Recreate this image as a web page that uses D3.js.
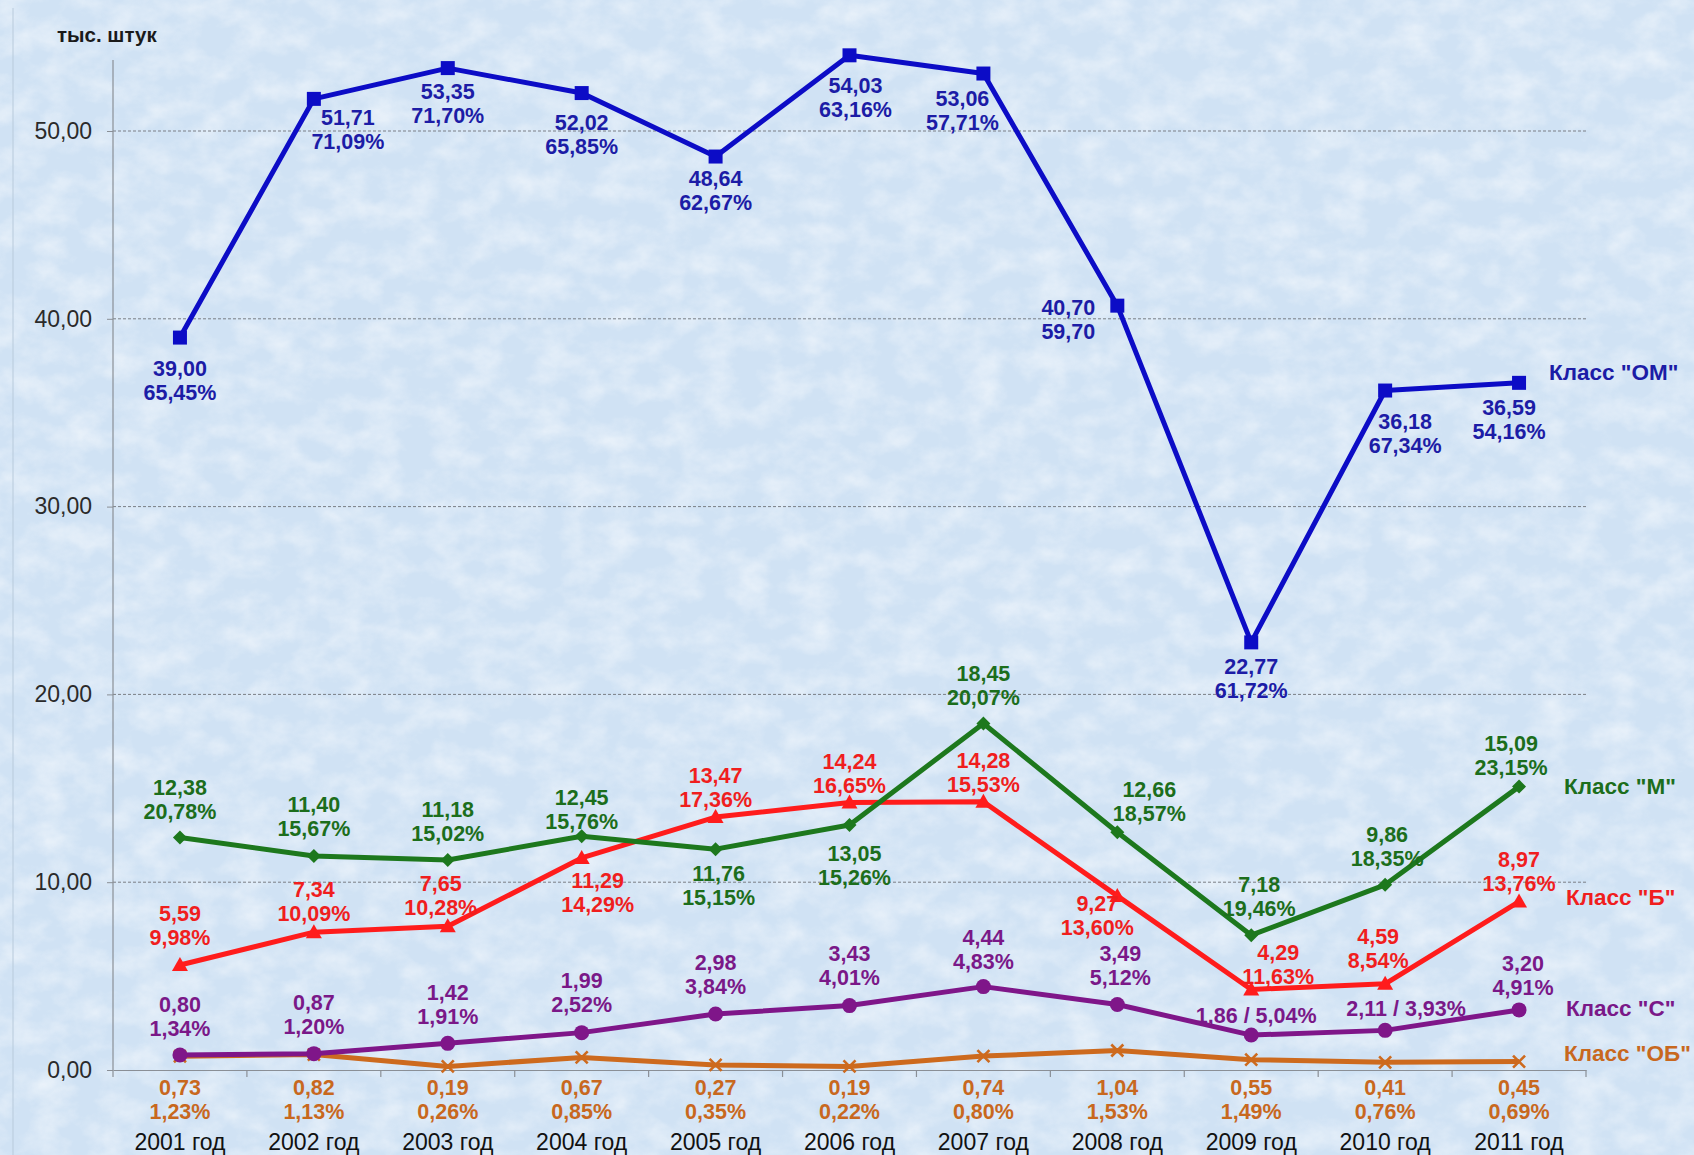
<!DOCTYPE html>
<html>
<head>
<meta charset="utf-8">
<script src="https://cdn.jsdelivr.net/npm/d3@7"></script>
<style>
  html, body { margin: 0; padding: 0; background: #d5e5f4; }
  svg { display: block; }
  text { font-family: "Liberation Sans", Arial, sans-serif; }
</style>
</head>
<body>
<svg id="chart" width="1694" height="1155"></svg>
<script>
// ---------- DATA ----------
const years = ["2001 год", "2002 год", "2003 год", "2004 год", "2005 год", "2006 год",
               "2007 год", "2008 год", "2009 год", "2010 год", "2011 год"];
const seriesNames = ['Класс "ОМ"', 'Класс "М"', 'Класс "Б"', 'Класс "С"', 'Класс "ОБ"'];
const omValues = [39.00, 51.71, 53.35, 52.02, 48.64, 54.03, 53.06, 40.70, 22.77, 36.18, 36.59];
const omShares = [65.45, 71.09, 71.70, 65.85, 62.67, 63.16, 57.71, 59.70, 61.72, 67.34, 54.16];
const mValues  = [12.38, 11.40, 11.18, 12.45, 11.76, 13.05, 18.45, 12.66, 7.18, 9.86, 15.09];
const mShares  = [20.78, 15.67, 15.02, 15.76, 15.15, 15.26, 20.07, 18.57, 19.46, 18.35, 23.15];
const bValues  = [5.59, 7.34, 7.65, 11.29, 13.47, 14.24, 14.28, 9.27, 4.29, 4.59, 8.97];
const bShares  = [9.98, 10.09, 10.28, 14.29, 17.36, 16.65, 15.53, 13.60, 11.63, 8.54, 13.76];
const cValues  = [0.80, 0.87, 1.42, 1.99, 2.98, 3.43, 4.44, 3.49, 1.86, 2.11, 3.20];
const cShares  = [1.34, 1.20, 1.91, 2.52, 3.84, 4.01, 4.83, 5.12, 5.04, 3.93, 4.91];
const obValues = [0.73, 0.82, 0.19, 0.67, 0.27, 0.19, 0.74, 1.04, 0.55, 0.41, 0.45];
const obShares = [1.23, 1.13, 0.26, 0.85, 0.35, 0.22, 0.80, 1.53, 1.49, 0.76, 0.69];
const yTickValues = [0, 10, 20, 30, 40, 50];
const yAxisTitle = "тыс. штук";
// share shown without "%" sign in the original (OM, 2008)
const omNoPercent = [7];

// ---------- LAYOUT / STYLE (kept apart from data) ----------
const W = 1694, H = 1155;
const plot = { left: 113, right: 1586, top: 60, bottom: 1070, y50: 131 };
const fontFamily = '"Liberation Sans", Arial, sans-serif';

// label offsets: [dx, dy] of first text line centre relative to the point
const omLabelOff = [[0,31],[34,19],[0,23],[0,29],[0,22],[6,30],[-21,25],[-49,2],[0,24],[20,31],[-10,25]];
const mLabelOff  = [[0,-50],[0,-51],[0,-51],[0,-39],[3,24],[5,29],[0,-50],[32,-43],[8,-51],[2,-50],[-8,-43]];
const bLabelOff  = [[0,-52],[0,-43],[-7,-43],[16,23],[0,-42],[0,-41],[0,-41],[-20,8],[27,-37],[-7,-47],[0,-42]];
const cLabelOff  = [[0,-51],[0,-51],[0,-51],[0,-52],[0,-52],[0,-52],[0,-49],[3,-51],[5,-20],[21,-22],[4,-46]];
const cInline    = [false,false,false,false,false,false,false,false,true,true,false];
const obLabelAxisGap = 17; // OB labels sit under the axis

const series = [
  { name: seriesNames[0], values: omValues, shares: omShares, color: "#0c0cc6", text: "#1c1ca6", marker: "square",
    off: omLabelOff, noPct: omNoPercent, legend: [30, -11] },
  { name: seriesNames[1], values: mValues, shares: mShares, color: "#1d781d", text: "#1c6e1c", marker: "diamond",
    off: mLabelOff, noPct: [], legend: [45, 0] },
  { name: seriesNames[2], values: bValues, shares: bShares, color: "#ff1c1c", text: "#f01e1e", marker: "triangle",
    off: bLabelOff, noPct: [], legend: [47, -4] },
  { name: seriesNames[3], values: cValues, shares: cShares, color: "#7f1689", text: "#7a1888", marker: "circle",
    off: cLabelOff, inline: cInline, noPct: [], legend: [47, -2] },
  { name: seriesNames[4], values: obValues, shares: obShares, color: "#cd6a1e", text: "#c8681e", marker: "x",
    axisLabels: true, noPct: [], legend: [45, -8] }
];

const fmt = v => d3.format(".2f")(v).replace(".", ",");

// ---------- SCALES ----------
const x = d3.scaleBand().domain(years).range([plot.left, plot.right]).padding(0);
const xc = d => x(d) + x.bandwidth() / 2;
const y = d3.scaleLinear().domain([0, 50]).range([plot.bottom, plot.y50]);

const svg = d3.select("#chart");

// ---------- BACKGROUND ----------
const defs = svg.append("defs");
const f = defs.append("filter").attr("id", "frost").attr("x", 0).attr("y", 0).attr("width", 1).attr("height", 1);
f.append("feTurbulence").attr("type", "fractalNoise").attr("baseFrequency", "0.03 0.04")
  .attr("numOctaves", 4).attr("seed", 11).attr("result", "n");
f.append("feColorMatrix").attr("in", "n").attr("type", "matrix")
  .attr("values", "0 0 0 0 1  0 0 0 0 1  0 0 0 0 1  1.5 0 0 0 -0.55");
svg.append("rect").attr("width", W).attr("height", H).attr("fill", "#d0e2f4");
svg.append("rect").attr("width", W).attr("height", H).attr("fill", "#fff").attr("filter", "url(#frost)").attr("opacity", 0.6);
svg.append("line").attr("x1", 13).attr("x2", 13).attr("y1", 8).attr("y2", H)
  .attr("stroke", "#b8cadb").attr("stroke-width", 1);

// ---------- GRID ----------
svg.append("g").selectAll("line").data(yTickValues.filter(v => v > 0)).join("line")
  .attr("x1", plot.left).attr("x2", plot.right)
  .attr("y1", d => y(d)).attr("y2", d => y(d))
  .attr("stroke", "#7a7f86").attr("stroke-width", 1).attr("stroke-dasharray", "3,2");

// ---------- AXES ----------
const yAxis = svg.append("g").attr("transform", `translate(${plot.left},0)`)
  .call(d3.axisLeft(y).tickValues(yTickValues).tickFormat(fmt).tickSize(6).tickPadding(15));
yAxis.select(".domain").remove();
yAxis.append("line").attr("x1", 0).attr("x2", 0).attr("y1", plot.top).attr("y2", plot.bottom)
  .attr("stroke", "#8a8f96").attr("stroke-width", 1.2);
yAxis.selectAll(".tick line").attr("stroke", "#8a8f96");
yAxis.selectAll("text").attr("font-size", 23).attr("fill", "#2a2a2a").attr("font-family", fontFamily);

const xAxis = svg.append("g").attr("transform", `translate(0,${plot.bottom})`)
  .call(d3.axisBottom(x).tickSize(0));
xAxis.select(".domain").attr("stroke", "#8a8f96").attr("stroke-width", 1.2);
xAxis.selectAll("text").attr("y", 72).attr("dy", "0.35em").attr("font-size", 23)
  .attr("fill", "#111").attr("font-family", fontFamily);
// boundary ticks between categories
xAxis.append("g").selectAll("line").data(years.concat(["__end"])).join("line")
  .attr("x1", d => d === "__end" ? plot.right : x(d))
  .attr("x2", d => d === "__end" ? plot.right : x(d))
  .attr("y1", 0).attr("y2", 7).attr("stroke", "#8a8f96").attr("stroke-width", 1.2);

// axis title
svg.append("text").attr("x", 57).attr("y", 35).attr("dy", "0.35em")
  .attr("font-size", 20.5).attr("font-weight", "bold").attr("fill", "#1a1a1a").text(yAxisTitle);

// ---------- SERIES ----------
const line = d3.line().x(d => xc(d.year)).y(d => y(d.value));

const markerPath = {
  square: "M-7,-7H7V7H-7Z",
  diamond: "M0,-7L7,0L0,7L-7,0Z",
  triangle: "M0,-8L8,6H-8Z",
};

// draw lower series first so that OM stays on top
const drawOrder = [4, 3, 2, 1, 0];
drawOrder.forEach(si => {
  const s = series[si];
  const pts = years.map((yr, i) => ({ year: yr, value: s.values[i], share: s.shares[i], i }));
  const g = svg.append("g");
  g.append("path").datum(pts).attr("d", line).attr("fill", "none")
    .attr("stroke", s.color).attr("stroke-width", 5).attr("stroke-linejoin", "round");
  const m = g.selectAll(".m").data(pts).join("g")
    .attr("transform", d => `translate(${xc(d.year)},${y(d.value)})`);
  if (s.marker === "circle") {
    m.append("circle").attr("r", 7.5).attr("fill", s.color);
  } else if (s.marker === "x") {
    m.append("path").attr("d", "M-6,-6L6,6M-6,6L6,-6").attr("stroke", s.color).attr("stroke-width", 2.6);
  } else {
    m.append("path").attr("d", markerPath[s.marker]).attr("fill", s.color);
  }
});

// labels on top
series.forEach((s, si) => {
  const g = svg.append("g").attr("font-weight", "bold").attr("font-size", 21.5)
    .attr("fill", s.text).attr("text-anchor", "middle");
  years.forEach((yr, i) => {
    const px = xc(yr), py = y(s.values[i]);
    const shareTxt = fmt(s.shares[i]) + (s.noPct.includes(i) ? "" : "%");
    let lx, ly;
    if (s.axisLabels) { lx = px; ly = plot.bottom + obLabelAxisGap; }
    else { lx = px + s.off[i][0]; ly = py + s.off[i][1]; }
    if (s.inline && s.inline[i]) {
      g.append("text").attr("x", lx).attr("y", ly).attr("dy", "0.35em")
        .text(fmt(s.values[i]) + " / " + shareTxt);
    } else {
      g.append("text").attr("x", lx).attr("y", ly).attr("dy", "0.35em").text(fmt(s.values[i]));
      g.append("text").attr("x", lx).attr("y", ly + 24).attr("dy", "0.35em").text(shareTxt);
    }
  });
  // series name next to the last point
  const last = years.length - 1;
  svg.append("text")
    .attr("x", xc(years[last]) + s.legend[0])
    .attr("y", y(s.values[last]) + s.legend[1])
    .attr("dy", "0.35em").attr("font-size", 22.5).attr("font-weight", "bold")
    .attr("fill", s.text).text(s.name);
});
</script>
</body>
</html>
